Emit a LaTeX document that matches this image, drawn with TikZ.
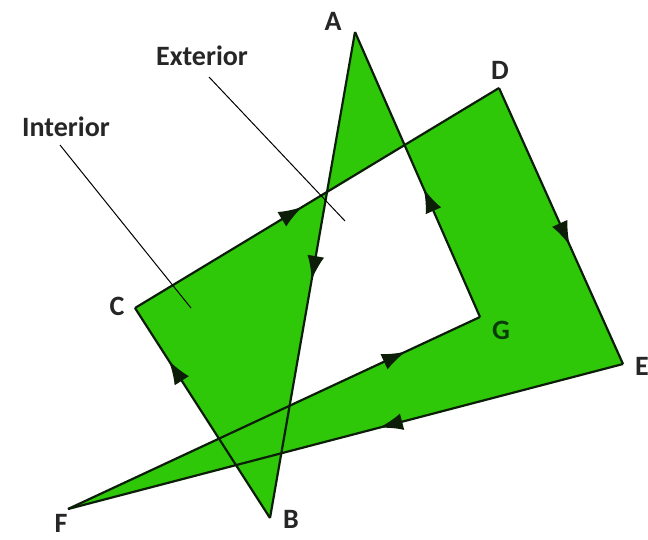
\documentclass[tikz,border=0pt]{standalone}
\usepackage{fontspec}
\setmainfont{Carlito}
\usetikzlibrary{arrows.meta,decorations.markings}
\definecolor{polygreen}{RGB}{46,200,8}
\definecolor{edgecol}{RGB}{12,30,8}
\definecolor{gdark}{RGB}{10,60,10}
\tikzset{
  edgeline/.style={draw=edgecol,line width=2.2pt,line join=round},
  midarrow/.style={decoration={markings,mark=at position #1 with {\arrow{Latex[length=24pt,width=17pt]}}},postaction={decorate}},
  lbl/.style={font=\fontsize{28}{32}\selectfont\bfseries,inner sep=0pt,text=black!85},
  pointer/.style={draw=black,line width=1pt}
}
\begin{document}
\begin{tikzpicture}[x=1pt,y=-1pt]
\useasboundingbox[fill=white] (0,0) rectangle (648,539);
\coordinate (A) at (355,32);
\coordinate (B) at (270,518);
\coordinate (C) at (135,308);
\coordinate (D) at (499,88);
\coordinate (E) at (623,364);
\coordinate (F) at (68,509);
\coordinate (G) at (480,317);
% filled polygon (nonzero rule)
\fill[polygreen] (A) -- (B) -- (C) -- (D) -- (E) -- (F) -- (G) -- cycle;
% edges with direction arrows
\draw[edgeline,midarrow=0.51] (A) -- (B);
\draw[edgeline,midarrow=0.75] (B) -- (C);
\draw[edgeline,midarrow=0.46] (C) -- (D);
\draw[edgeline,midarrow=0.57] (D) -- (E);
\draw[edgeline,midarrow=0.44] (E) -- (F);
\draw[edgeline,midarrow=0.82] (F) -- (G);
\draw[edgeline,midarrow=0.45] (G) -- (A);
% vertex labels
\node[lbl] (lA) at (333,21) {A};
\node[lbl] (lB) at (291,519) {B};
\node[lbl] (lC) at (117,306) {C};
\node[lbl] (lD) at (500,70) {D};
\node[lbl] (lE) at (642,366) {E};
\node[lbl] (lF) at (61,523) {F};
\node[lbl,text=gdark] (lG) at (501,330) {G};
% region labels and pointers
\node[lbl] (ext) at (202,56) {Exterior};
\node[lbl] (int) at (66,127) {Interior};
\coordinate (extA) at (209,77);
\coordinate (extB) at (345,221);
\coordinate (intA) at (60,145);
\coordinate (intB) at (191,308);
\draw[pointer] (extA) -- (extB);
\draw[pointer] (intA) -- (intB);
\end{tikzpicture}
\end{document}
